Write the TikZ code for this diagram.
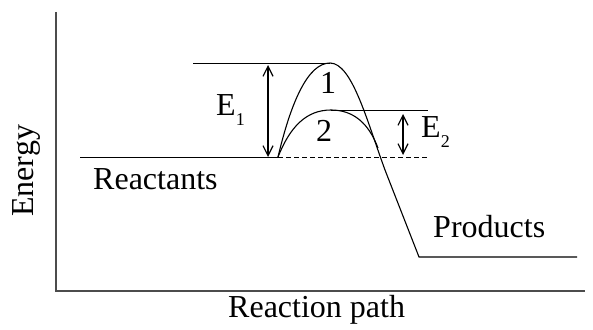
\documentclass[tikz,border=0pt]{standalone}
\usepackage{fontspec}
\setmainfont{Liberation Serif}
\usetikzlibrary{arrows.meta}
\begin{document}
\begin{tikzpicture}[x=1pt,y=-1pt,
  lbl/.style={inner sep=0pt,font=\fontsize{32}{33}\selectfont},
  curve/.style={line width=1.1pt,black},
  level/.style={line width=0.9pt,black},
  axis/.style={line width=1.3pt,black!70},
  dbl/.style={line width=1.2pt,{Straight Barb[length=10pt,width=10pt]}-{Straight Barb[length=10pt,width=10pt]}}]
\useasboundingbox (0,0) rectangle (593,329);
% axes
\coordinate (ytop) at (56,12);
\coordinate (orig) at (56,291);
\coordinate (xend) at (585,291);
\draw[axis] (ytop) -- (orig) -- (xend);
% key points
\coordinate (rl) at (80,157);
\coordinate (start) at (278,157);
\coordinate (p1) at (330,63);
\coordinate (p2) at (331,110);
\coordinate (bend) at (385,170);
\coordinate (prodA) at (419,257);
\coordinate (prodB) at (577,257);
\coordinate (merge) at (378,148);
\coordinate (topL) at (193,63);
\coordinate (midR) at (428,110);
\coordinate (dashR) at (428,157);
% reactants level
\draw[level] (rl) -- (start);
\draw[level,dashed,dash pattern=on 5pt off 3pt] (start) -- (dashR);
% curve 1 and product
\draw[curve] (start) .. controls (291,102) and (308,63) .. (p1)
  .. controls (352,63) and (367,121) .. (bend) -- (prodA) -- (prodB);
% curve 2
\draw[curve] (start) .. controls (290,127) and (306,110) .. (p2)
  .. controls (354,110) and (369,124) .. (merge);
% level lines
\draw[level] (topL) -- (p1);
\draw[level] (p2) -- (midR);
% arrows
\coordinate (e1t) at (268,65);
\coordinate (e1b) at (268,157);
\coordinate (e2t) at (403,114);
\coordinate (e2b) at (403,155);
\draw[dbl] (e1t) -- (e1b);
\draw[dbl] (e2t) -- (e2b);
% labels
\node[lbl,anchor=base west] (e1) at (216,115) {E\raisebox{-10pt}{\fontsize{18}{18}\selectfont 1}};
\node[lbl,anchor=base west] (e2) at (421,137) {E\raisebox{-10pt}{\fontsize{18}{18}\selectfont 2}};
\node[lbl,anchor=base] (one) at (328,93) {1};
\node[lbl,anchor=base] (two) at (324,141) {2};
\node[lbl,anchor=base west] (react) at (93,189) {Reactants};
\node[lbl,anchor=base west] (prod) at (433,237) {Products};
\node[lbl,anchor=base west] (xl) at (228,317) {Reaction path};
\node[lbl,anchor=base west,rotate=90] (yl) at (33,217) {Energy};
\end{tikzpicture}
\end{document}
